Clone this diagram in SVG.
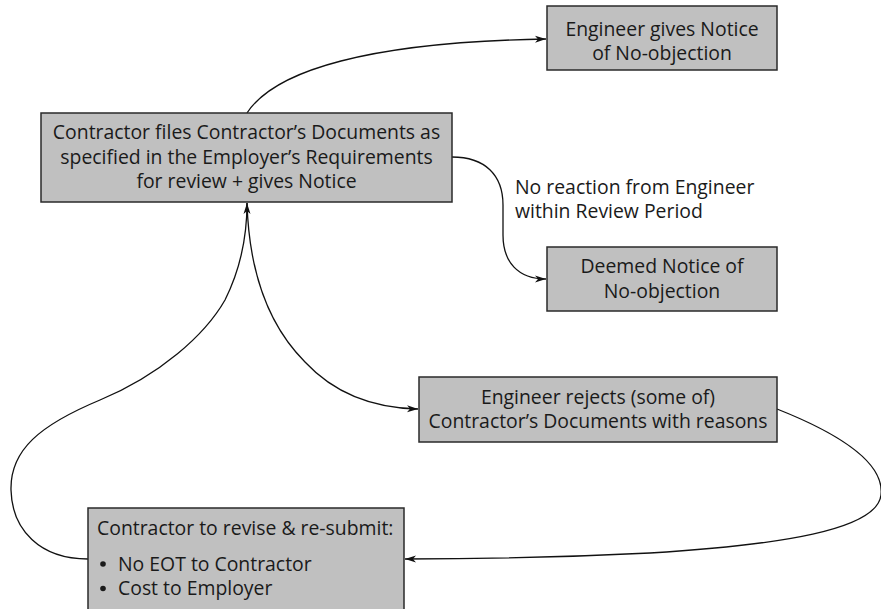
<svg xmlns="http://www.w3.org/2000/svg" width="881" height="609" viewBox="0 0 881 609">
<defs>
<style>
.box{fill:#c0c0c0;stroke:#2a2a2a;stroke-width:1.5}
.t{font-family:"Open Sans","Noto Sans","Liberation Sans",sans-serif;font-size:19.4px;fill:#1a1a1a}
.c{text-anchor:middle}
.edge{fill:none;stroke:#111;stroke-width:1.3}
.dot{fill:#1a1a1a}
</style>
<marker id="arr" markerWidth="12" markerHeight="8" refX="11" refY="4" orient="auto" markerUnits="userSpaceOnUse">
<path d="M0,0.5 L11,4 L0,7.5 L3,4 Z" fill="#111"/>
</marker>
</defs>
<rect width="881" height="609" fill="#fff"/>
<g id="connectors">
<path class="edge" d="M247,113 C275,70 370,42 546,39" marker-end="url(#arr)"/>
<path class="edge" d="M452,157 C485,157 503,175 503,205 L503,235 C503,262 518,279 546,279" marker-end="url(#arr)"/>
<path class="edge" d="M247,203 C249,270 268,325 305,362 C333,392 370,408 418,409" marker-end="url(#arr)"/>
<path class="edge" d="M777,409 C830,430 885,460 881,495 C877,530 780,545 650,553 C550,558 460,559 405,559" marker-end="url(#arr)"/>
<path class="edge" d="M88,559 C40,559 12,530 11,490 C10,450 40,425 100,400 C160,375 205,335 225,300 C240,270 247,240 247,203" marker-end="url(#arr)"/>
</g>
<g id="n-submit">
<rect class="box" x="41" y="113" width="411" height="89"/>
<text class="t c" x="246.5" y="139">Contractor files Contractor’s Documents as</text>
<text class="t c" x="246.5" y="163.5">specified in the Employer’s Requirements</text>
<text class="t c" x="246.5" y="188">for review + gives Notice</text>
</g>
<g id="n-notice">
<rect class="box" x="547" y="6" width="230" height="64"/>
<text class="t c" x="662" y="35.5">Engineer gives Notice</text>
<text class="t c" x="662" y="60">of No-objection</text>
</g>
<g id="label-noreaction">
<text class="t" x="515" y="193.5">No reaction from Engineer</text>
<text class="t" x="515" y="218">within Review Period</text>
</g>
<g id="n-deemed">
<rect class="box" x="547" y="247" width="230" height="64"/>
<text class="t c" x="662" y="273">Deemed Notice of</text>
<text class="t c" x="662" y="297.5">No-objection</text>
</g>
<g id="n-rejects">
<rect class="box" x="419" y="377" width="358" height="65"/>
<text class="t c" x="598" y="403.5">Engineer rejects (some of)</text>
<text class="t c" x="598" y="428">Contractor’s Documents with reasons</text>
</g>
<g id="n-revise">
<rect class="box" x="88" y="508" width="316" height="120"/>
<text class="t" x="97" y="535">Contractor to revise &amp; re-submit:</text>
<circle class="dot" cx="103" cy="564" r="2.8"/>
<text class="t" x="118" y="570.5">No EOT to Contractor</text>
<circle class="dot" cx="103" cy="588.5" r="2.8"/>
<text class="t" x="118" y="595">Cost to Employer</text>
</g>
</svg>
